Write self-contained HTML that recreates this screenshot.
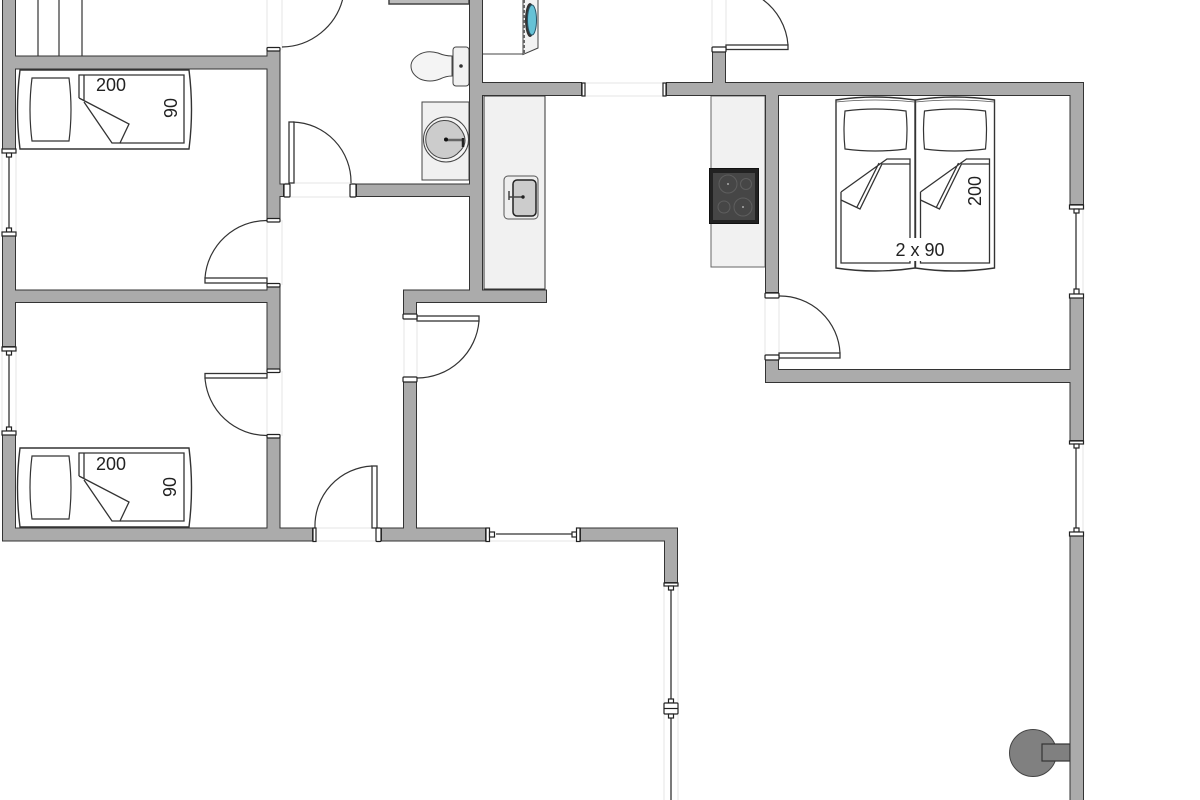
<!DOCTYPE html>
<html><head><meta charset="utf-8"><title>Floor plan</title>
<style>
html,body{margin:0;padding:0;background:#fff;width:1200px;height:800px;overflow:hidden}
svg{display:block}
text{font-family:"Liberation Sans",sans-serif;fill:#222}
</style></head><body>
<svg width="1200" height="800" viewBox="0 0 1200 800" xmlns="http://www.w3.org/2000/svg">
<defs>
<filter id="er" filterUnits="userSpaceOnUse" x="-20" y="-20" width="1240" height="840"><feMorphology operator="erode" radius="1"/></filter>
<path id="w" d="M2-5H16V150H2ZM2 232H16V347H2ZM2 431H16V541H2ZM16 55.500H267V69.500H16ZM16 289.500H267V303H16ZM2 527.500H313V541.500H2ZM266.500 50H280.500V219H266.500ZM266.500 286H280.500V370H266.500ZM266.500 437H280.500V528H266.500ZM280 183.500H284V197H280ZM356 183.500H470V197H356ZM469-5H483V290H469ZM483 82H582V96H483ZM666 82H1084V96H666ZM712 50H726V83H712ZM765 96H779V293H765ZM1069.500 82H1084V205H1069.500ZM1069.500 296H1084V441H1069.500ZM1069.500 535H1084V805H1069.500ZM765 369H1070V383H765ZM765 358H779V383H765ZM403 289.500H547V303H403ZM403 303H417V315H403ZM403 380H417V528H403ZM381 527.500H486V541.500H381ZM580 527.500H678V541.500H580ZM664 527.500H678V583H664Z"/>
<g id="bed">
<path d="M20 70H189Q194 110 189 149H20Q15 110 20 70Z" fill="#fff" stroke="#333" stroke-width="1.400"/>
<path d="M32 78H69Q73 110 69 141H32Q28 110 32 78Z" fill="#fff" stroke="#333" stroke-width="1.200"/>
<path d="M79 98V75H184V143H120" fill="none" stroke="#333" stroke-width="1.300"/>
<path d="M84 75V100M79 98L129 124L120 143H112L84 102" fill="none" stroke="#333" stroke-width="1.300"/>
</g>
<g id="dbl">
<path d="M836 100Q875 94 915 100V268Q875 274 836 268Z" fill="#fff" stroke="#333" stroke-width="1.400"/>
<path d="M836 102Q875 98 915 102" fill="none" stroke="#555" stroke-width=".8"/>
<path d="M845 111Q875 107 906 111Q908 130 906 149Q875 153 845 149Q843 130 845 111Z" fill="#fff" stroke="#333" stroke-width="1.200"/>
<path d="M841 192V263H910V159H887L841 192M841 200L860 209L882 164H910M857 207L879 163" fill="none" stroke="#333" stroke-width="1.300"/>
</g>
</defs>

<!-- faint gap lines -->
<g stroke="#e6e6e6" stroke-width="1" fill="none">
<path d="M267 0V50M282 0V50M267 220V285M282 220V285M267 371V436M282 371V436"/>
<path d="M585 83H664M585 96H664M712 0V46M726 0V46M285 183H350M285 197H350"/>
<path d="M404 318V378M417 322V378M765 298V356M779 298V356M316 528H376M316 541H376"/>
<path d="M2 153V232M16 153V232M2 350V431M16 350V431M1083 208V296M1083 444V534M664 586V800M678 586V800M490 541H578"/>
</g>

<!-- fixtures -->
<rect x="389" y="-3" width="80" height="7" fill="#bbb" stroke="#444" stroke-width="1.500"/>
<path d="M38 0V56M59 0V56M82 0V56" fill="none" stroke="#333" stroke-width="1.200"/>

<rect x="484" y="96" width="61" height="193" fill="#f1f1f1" stroke="#333" stroke-width="1"/>
<rect x="504" y="176" width="34" height="43" rx="4" fill="#eee" stroke="#555" stroke-width="1"/>
<rect x="513" y="180" width="23" height="36" rx="4" fill="#ccc" stroke="#222" stroke-width="1.500"/>
<path d="M509 197H523M509 191V200" stroke="#444" stroke-width="1.500" fill="none"/>
<circle cx="523" cy="197" r="1.700" fill="#222"/>

<rect x="711" y="96" width="54" height="171" fill="#f1f1f1" stroke="#666" stroke-width="1"/>
<rect x="709.500" y="168.500" width="49" height="55" fill="#222" stroke="#111"/>
<rect x="713" y="173" width="42" height="47" fill="#464646"/>
<g fill="none" stroke="#5e5e5e"><circle cx="728" cy="184" r="9"/><circle cx="746" cy="184" r="5.500"/><circle cx="724" cy="207" r="6"/><circle cx="743" cy="207" r="9"/></g>
<circle cx="728" cy="184" r="1" fill="#aaa"/><circle cx="743" cy="207" r="1" fill="#aaa"/>

<rect x="453" y="47" width="16" height="39" rx="3" fill="#f1f1f1" stroke="#444" stroke-width="1"/>
<circle cx="461" cy="66" r="1.800" fill="#333"/>
<path d="M452 56Q445 56 438 53Q428 50 420 54Q411 59 411 66Q411 74 420 79Q430 83 440 79Q446 76 452 76Z" fill="#f4f4f4" stroke="#444" stroke-width="1"/>
<rect x="422" y="102" width="47" height="78" fill="#f0f0f0" stroke="#444" stroke-width="1"/>
<circle cx="446" cy="139.500" r="22.500" fill="#f4f4f4" stroke="#444" stroke-width="1"/>
<path d="M457 125A19 19 0 1 0 457 154L461 150Q470 140 459 127Z" fill="#ccc" stroke="#444" stroke-width="1"/>
<path d="M446 140H463" stroke="#666" stroke-width="2.500"/>
<path d="M463 138V147" stroke="#222" stroke-width="2.500"/>
<circle cx="446" cy="139.500" r="2" fill="#111"/>

<!-- washer -->
<path d="M483 54H523V-3" fill="#fff" stroke="#444" stroke-width="1"/>
<path d="M523 -2H538V48L523 54.500Z" fill="#f2f2f2" stroke="#444" stroke-width="1"/>
<path d="M524 0V54" stroke="#666" stroke-width="2" stroke-dasharray="3 2"/>
<ellipse cx="530" cy="20" rx="5" ry="17" fill="#333"/>
<ellipse cx="532" cy="20" rx="4.500" ry="15" fill="#66c2d6" stroke="#27566a" stroke-width="1"/>

<!-- beds -->
<use href="#bed"/>
<use href="#bed" y="378"/>
<use href="#dbl"/>
<use href="#dbl" x="79.500"/>
<rect x="893" y="238" width="54" height="23" fill="#fff"/>
<text x="111" y="91" font-size="18" text-anchor="middle">200</text>
<text x="111" y="470" font-size="18" text-anchor="middle">200</text>
<text transform="translate(177,108) rotate(-90)" font-size="18" text-anchor="middle">90</text>
<text transform="translate(176,487) rotate(-90)" font-size="18" text-anchor="middle">90</text>
<text transform="translate(981,191) rotate(-90)" font-size="18" text-anchor="middle">200</text>
<text x="920" y="256" font-size="18" text-anchor="middle">2 x 90</text>

<!-- boiler -->
<circle cx="1033" cy="753" r="23.500" fill="#808080" stroke="#444" stroke-width="1"/>
<rect x="1042" y="744" width="28" height="17" fill="#808080" stroke="#333" stroke-width="1.200"/>

<!-- walls -->
<use href="#w" fill="#333"/>
<use href="#w" fill="#ababab" filter="url(#er)"/>

<!-- door leaves and swings -->
<g fill="#fff" stroke="#333" stroke-width="1.300">
<rect x="205" y="278" width="62" height="5"/>
<rect x="205" y="373.500" width="62" height="4.500"/>
<rect x="289" y="122" width="5" height="61"/>
<rect x="726" y="45" width="62" height="4.500"/>
<rect x="779" y="353" width="61" height="5"/>
<rect x="417" y="316" width="62" height="5"/>
<rect x="372" y="466" width="5" height="62"/>
</g>
<g fill="none" stroke="#333" stroke-width="1.200">
<path d="M282 47A64 64 0 0 0 343 -2"/>
<path d="M205 278A62 62 0 0 1 267 220.500"/>
<path d="M205 378A62 62 0 0 0 267 435.500"/>
<path d="M293 122A60 60 0 0 1 351 183"/>
<path d="M788 45A62 62 0 0 0 762 -1"/>
<path d="M779 296A60 60 0 0 1 840 353"/>
<path d="M479 321A62 62 0 0 1 417 378"/>
<path d="M372 466A60 60 0 0 0 315 528"/>
</g>

<!-- door jambs -->
<g fill="#fff" stroke="#222" stroke-width="1.200">
<rect x="267" y="47.500" width="13" height="3.500" rx="1"/>
<rect x="267" y="218.500" width="13" height="3.500" rx="1"/>
<rect x="267" y="283.500" width="13" height="3.500" rx="1"/>
<rect x="267" y="369" width="13" height="3.500" rx="1"/>
<rect x="267" y="434.500" width="13" height="3.500" rx="1"/>
<rect x="712" y="47" width="14" height="5" rx="1"/>
<rect x="765" y="293" width="14" height="5" rx="1"/>
<rect x="765" y="355" width="14" height="5" rx="1"/>
<rect x="403" y="314" width="14" height="5" rx="1"/>
<rect x="403" y="377" width="14" height="5" rx="1"/>
<rect x="284" y="184" width="6" height="13" rx="1"/>
<rect x="350" y="184" width="6" height="13" rx="1"/>
<rect x="313" y="528" width="3" height="13.500"/>
<rect x="376" y="528" width="5" height="13.500" rx="1"/>
<rect x="582" y="83" width="3" height="13"/>
<rect x="663" y="83" width="3" height="13"/>
</g>

<!-- windows -->
<g fill="none" stroke="#333" stroke-width="1.300">
<path d="M9 157V228M9 355V427M1076 213V292M1076 448V530M671 590V702M671 716V800M496 534H572"/>
</g>
<g fill="#fff" stroke="#222" stroke-width="1.200">
<rect x="2" y="149" width="14" height="4"/><rect x="6.500" y="153" width="5" height="4"/>
<rect x="6.500" y="228" width="5" height="4"/><rect x="2" y="232" width="14" height="4"/>
<rect x="2" y="347" width="14" height="4"/><rect x="6.500" y="351" width="5" height="4"/>
<rect x="6.500" y="427" width="5" height="4"/><rect x="2" y="431" width="14" height="4"/>
<rect x="1069.500" y="205" width="14" height="4"/><rect x="1074" y="209" width="5" height="4"/>
<rect x="1074" y="289" width="5" height="5"/><rect x="1069.500" y="294" width="14" height="4"/>
<rect x="1069.500" y="441" width="14" height="3"/><rect x="1074" y="444" width="5" height="4"/>
<rect x="1074" y="528" width="5" height="4"/><rect x="1069.500" y="532" width="14" height="4"/>
<rect x="664" y="583" width="14" height="3"/><rect x="668.500" y="586" width="5" height="4"/>
<rect x="668.500" y="699" width="5" height="4"/><rect x="664" y="703" width="14" height="11" rx="1"/><rect x="668.500" y="714" width="5" height="4"/>
<path d="M664 708.500H678" fill="none"/>
<rect x="486" y="528" width="3.500" height="13.500"/><rect x="489.500" y="532" width="5" height="5"/>
<rect x="572" y="532" width="5" height="5"/><rect x="576.500" y="528" width="3.500" height="13.500"/>
</g>
</svg>
</body></html>
